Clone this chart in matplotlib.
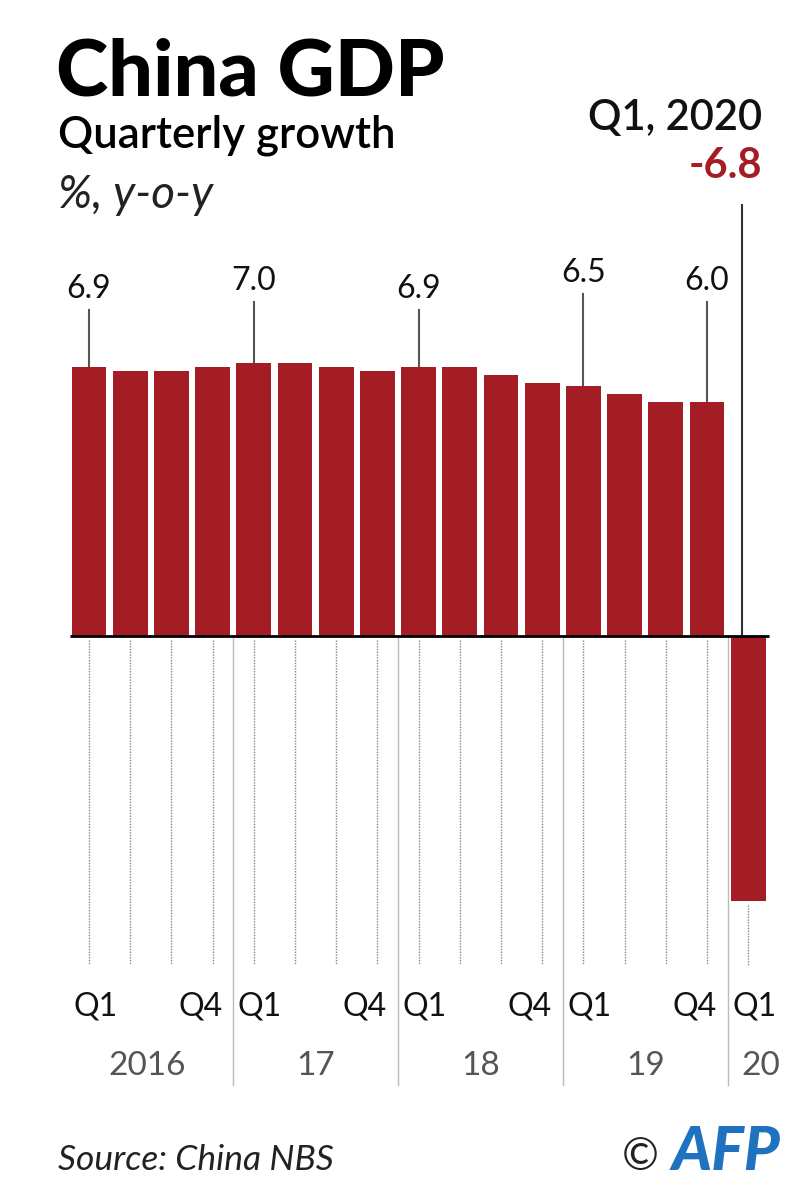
import matplotlib.pyplot as plt

# data
quarters = ["Q1", "Q2", "Q3", "Q4"] * 4 + ["Q1"]
years = ["2016", "17", "18", "19", "20"]
growth = [6.9, 6.8, 6.8, 6.9,
          7.0, 7.0, 6.9, 6.8,
          6.9, 6.9, 6.7, 6.5,
          6.4, 6.2, 6.0, 6.0,
          -6.8]
# bars with a callout label: (bar index, label text, label baseline in px from top)
callouts = [(0, "6.9", 298), (4, "7.0", 290), (8, "6.9", 298), (12, "6.5", 282), (15, "6.0", 290)]

plt.rcParams['font.family'] = ['Lato', 'DejaVu Sans']

W, H = 785, 1185
fig = plt.figure(figsize=(W / 100, H / 100), dpi=100)
ax = fig.add_axes([0, 0, 1, 1])
ax.axis('off')

# pixel layout of the reference
zero_px, unit_px = 636, 39.0
x0_px, step_px = 89, 41.2
ax.set_xlim(-x0_px / step_px, (W - x0_px) / step_px)
ax.set_ylim(-(H - zero_px) / unit_px, zero_px / unit_px)

def py(p):
    # pixel row -> data value
    return (zero_px - p) / unit_px

red = '#a51d24'
n = len(growth)
xs = list(range(n))

ax.bar(xs, growth, width=0.84, color=red, zorder=2)

# zero line
ax.plot([-0.45, n - 0.5], [0, 0], color='black', lw=2, zorder=3, solid_capstyle='butt')

# dotted guides below bars
for i, v in zip(xs, growth):
    top = 0 if v > 0 else v
    ax.plot([i, i], [top - 0.1, py(965)], color='#888888', lw=1, ls=(0, (1, 1)), zorder=1)

# year separators
for i in [3.5, 7.5, 11.5, 15.5]:
    ax.plot([i, i], [0, py(1085)], color='#bbbbbb', lw=1, zorder=1)

# quarter labels
for i, q in enumerate(quarters):
    if q == "Q1":
        ax.text(i + 0.15, py(1015), q, ha='center', va='baseline', fontsize=23, color='#111111')
    elif q == "Q4":
        ax.text(i - 0.3, py(1015), q, ha='center', va='baseline', fontsize=23, color='#111111')

# year labels
year_x = [1.4, 5.5, 9.5, 13.5, 16.3]
for x, y in zip(year_x, years):
    ax.text(x, py(1075), y, ha='center', va='baseline', fontsize=24, color='#555555')

# callouts
for i, lab, base in callouts:
    ax.text(i, py(base), lab, ha='center', va='baseline', fontsize=23, color='#111111')
    ax.plot([i, i], [growth[i], py(base + 12)], color='#555555', lw=1.5, zorder=1)

# Q1 2020 callout
ax.plot([16 - 0.15, 16 - 0.15], [0, py(205)], color='#333333', lw=1.5, zorder=1)
fig.text(762 / W, 1 - 130 / H, "Q1, 2020", ha='right', va='baseline', fontsize=30,
         fontweight='semibold', color='#111111')
fig.text(762 / W, 1 - 178 / H, f"{growth[-1]:.1f}", ha='right', va='baseline', fontsize=30,
         fontweight='bold', color=red)

# titles
fig.text(56 / W, 1 - 95 / H, "China GDP", ha='left', va='baseline', fontsize=57,
         fontweight='black', color='black')
fig.text(58 / W, 1 - 148 / H, "Quarterly growth", ha='left', va='baseline', fontsize=31.5,
         fontweight='semibold', color='black')
fig.text(58 / W, 1 - 208 / H, "%, y-o-y", ha='left', va='baseline', fontsize=33,
         style='italic', color='#222222')

# footer
fig.text(58 / W, 1 - 1170 / H, "Source: China NBS", ha='left', va='baseline', fontsize=25.5,
         style='italic', color='#222222')
fig.text(622 / W, 1 - 1170 / H, "\u00a9", ha='left', va='baseline', fontsize=32, color='#222222')
fig.text(672 / W, 1 - 1170 / H, "AFP", ha='left', va='baseline', fontsize=44,
         style='italic', fontweight='black', color='#1f72c0')

fig.savefig('out.png', dpi=100, facecolor='white')
